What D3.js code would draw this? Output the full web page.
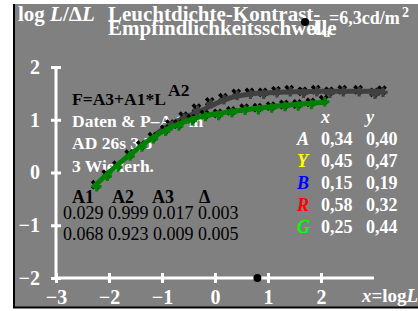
<!DOCTYPE html>
<html>
<head>
<meta charset="utf-8">
<script src="https://cdn.jsdelivr.net/npm/d3@7"></script>
<style>
  body { margin: 0; background: #fff; }
  text { font-family: "Liberation Serif", "DejaVu Serif", serif; }
</style>
</head>
<body>
<div id="chart"></div>
<script>
// ticks
const xTicks = [-3, -2, -1, 0, 1, 2];
const yTicks = [-2, -1, 0, 1, 2];

// fitted curves
const grayLineX = [-1.1, -0.8, -0.5, -0.25, 0, 0.3, 0.6, 1.0, 1.5, 2.0, 2.6, 3.2];
const grayLineY = [0.74, 0.93, 1.07, 1.18, 1.30, 1.42, 1.48, 1.51, 1.53, 1.54, 1.54, 1.54];
const greenLineX = [-2.3, -2.0, -1.74, -1.5, -1.28, -1.0, -0.66, -0.3, 0, 0.5, 1.0, 1.5, 2.1];
const greenLineY = [-0.28, 0.0, 0.23, 0.42, 0.59, 0.77, 0.93, 1.05, 1.11, 1.18, 1.24, 1.29, 1.33];

// measured points
const grayPtsX = [-0.85, -0.6, -0.35, -0.1, 0.15, 0.4, 0.65, 0.9, 1.15, 1.4, 1.65, 1.9, 2.15, 2.4, 2.7, 3.0, 3.15];
const grayPtsY = [0.9, 1.05, 1.2, 1.32, 1.4, 1.48, 1.5, 1.5, 1.53, 1.55, 1.52, 1.55, 1.52, 1.55, 1.55, 1.5, 1.54];
const greenPtsX = [-2.25, -2.05, -1.85, -1.62, -1.4, -1.18, -0.95, -0.7, -0.45, -0.2, 0.05, 0.3, 0.55, 0.8, 1.05, 1.3, 1.55, 1.8, 2.05];
const greenPtsY = [-0.25, -0.05, 0.12, 0.33, 0.5, 0.66, 0.8, 0.9, 1.0, 1.08, 1.1, 1.15, 1.2, 1.21, 1.24, 1.27, 1.28, 1.31, 1.36];

// fit parameters
const paramNames = ["A1", "A2", "A3", "\u0394"];
const paramRows = [
    ["0.029", "0.999", "0.017", "0.003"],
    ["0.068", "0.923", "0.009", "0.005"]
];

// colour legend
const legendNames = ["A", "Y", "B", "R", "G"];
const legendColors = ["#ffffff", "#ffff00", "#0000ff", "#ff0000", "#00ff00"];
const legendX = ["0,34", "0,45", "0,15", "0,58", "0,25"];
const legendY = ["0,40", "0,47", "0,19", "0,32", "0,44"];

const adaptLogL = 0.8;

const W = 418, H = 311;

const svg = d3.select("#chart").append("svg")
    .attr("width", W)
    .attr("height", H);

// panel
svg.append("rect")
    .attr("x", 14).attr("y", 4)
    .attr("width", W - 14).attr("height", 303)
    .attr("fill", "#808080");
svg.append("line")
    .attr("x1", 14).attr("x2", 14).attr("y1", 4).attr("y2", 308)
    .attr("stroke", "#000").attr("stroke-width", 2);
svg.append("line")
    .attr("x1", 13).attr("x2", W).attr("y1", 307.5).attr("y2", 307.5)
    .attr("stroke", "#000").attr("stroke-width", 2);

const x = d3.scaleLinear().domain([-3, 3]).range([56, 374]);
const y = d3.scaleLinear().domain([-2, 2]).range([278, 67]);

// axes
const minus = d => d < 0 ? "\u2212" + Math.abs(d) : d;
const xAxis = svg.append("g")
    .attr("transform", `translate(0,${y(-2)})`)
    .call(d3.axisBottom(x).tickValues(xTicks).tickSize(5).tickPadding(7).tickFormat(minus));
const yAxis = svg.append("g")
    .attr("transform", `translate(${x(-3)},0)`)
    .call(d3.axisLeft(y).tickValues(yTicks).tickSize(5).tickPadding(11).tickFormat(minus));

[xAxis, yAxis].forEach(g => {
    g.select(".domain").attr("stroke", "#fff").attr("stroke-width", 3);
    g.selectAll(".tick line").attr("stroke", "#fff").attr("stroke-width", 3);
    g.selectAll(".tick text")
        .attr("fill", "#fff")
        .style("font-family", "Liberation Serif")
        .style("font-size", "20px")
        .style("font-weight", "bold");
});
xAxis.selectAll(".tick line").attr("y1", -5).attr("y2", 5);
yAxis.selectAll(".tick line").attr("x1", -5).attr("x2", 5);
xAxis.select(".domain").attr("d", `M${x(-3)},0H${x(3)}`);
yAxis.select(".domain").attr("d", `M0,${y(-2)}V${y(2)}`);

// titles
const title = svg.append("g").attr("fill", "#fff").style("font-weight", "bold");
title.append("text").attr("x", 18).attr("y", 21).style("font-size", "21px")
    .html('log <tspan font-style="italic">L</tspan>/\u0394<tspan font-style="italic">L</tspan>');
title.append("text").attr("x", 108).attr("y", 21).style("font-size", "21px")
    .text("Leuchtdichte-Kontrast-");
title.append("text").attr("x", 108).attr("y", 35).style("font-size", "21px")
    .text("Empfindlichkeitsschwelle");
title.append("text").attr("x", 312).attr("y", 34).style("font-size", "20px")
    .style("font-style", "italic").text("L");
title.append("text").attr("x", 323).attr("y", 37).style("font-size", "13px")
    .text("u");
title.append("text").attr("x", 329).attr("y", 24).style("font-size", "18px")
    .text("=6,3cd/m");
title.append("text").attr("x", 402).attr("y", 17).style("font-size", "14px")
    .text("2");

// left text block
const info = svg.append("g").style("font-weight", "bold").style("font-size", "17.5px");
info.append("text").attr("x", 72).attr("y", 105).attr("fill", "#000").text("F=A3+A1*L");
info.append("text").attr("x", 168).attr("y", 96).attr("fill", "#000").text("A2");
info.append("text").attr("x", 72).attr("y", 127).attr("fill", "#fff").text("Daten & P\u2013A 1 in");
info.append("text").attr("x", 72).attr("y", 149).attr("fill", "#fff").text("AD 26s 3,5");
info.append("text").attr("x", 72).attr("y", 172).attr("fill", "#fff").text("3 Wiederh.");

// parameter table
const headX = [72, 112, 152, 199];
const colX = [63, 108, 153, 198];
svg.append("g").selectAll("text").data(paramNames).join("text")
    .attr("x", (d, i) => headX[i])
    .attr("y", 203)
    .attr("fill", "#000")
    .style("font-weight", "bold").style("font-size", "18px")
    .text(d => d);
paramRows.forEach((row, r) => {
    svg.append("g").selectAll("text").data(row).join("text")
        .attr("x", (d, i) => colX[i])
        .attr("y", 219 + r * 21)
        .attr("fill", "#000")
        .style("font-size", "18px")
        .text(d => d);
});

// colour legend
const leg = svg.append("g").style("font-weight", "bold").style("font-size", "18px");
leg.append("text").attr("x", 321).attr("y", 123).attr("fill", "#fff").style("font-style", "italic").text("x");
leg.append("text").attr("x", 366).attr("y", 123).attr("fill", "#fff").style("font-style", "italic").text("y");
legendNames.forEach((n, i) => {
    const yy = 145 + i * 22;
    leg.append("text").attr("x", 297).attr("y", yy).attr("fill", legendColors[i])
        .style("font-style", "italic").text(n);
    leg.append("text").attr("x", 321).attr("y", yy).attr("fill", "#fff").text(legendX[i]);
    leg.append("text").attr("x", 366).attr("y", yy).attr("fill", "#fff").text(legendY[i]);
});

// x-axis label
svg.append("text").attr("x", 362).attr("y", 302).attr("fill", "#fff")
    .style("font-weight", "bold").style("font-size", "19px")
    .html('<tspan font-style="italic">x</tspan>=log<tspan font-style="italic">L</tspan>');

// curves and markers
const line = d3.line().x(d => x(d[0])).y(d => y(d[1])).curve(d3.curveMonotoneX);
const cross = d3.symbol().type(d3.symbolCross).size(50);

function drawSeries(lx, ly, px, py, color) {
    const pts = px.map((v, i) => [v, py[i]]);
    const g = svg.append("g");
    // black dots of the repeated measurements
    g.selectAll(".dot").data(pts).join("path")
        .attr("transform", d => `translate(${x(d[0])},${y(d[1]) - 1}) rotate(45)`)
        .attr("d", d3.symbol().type(d3.symbolCross).size(60)())
        .attr("fill", "#000");
    g.append("path")
        .datum(lx.map((v, i) => [v, ly[i]]))
        .attr("d", line)
        .attr("fill", "none")
        .attr("stroke", color)
        .attr("stroke-width", 5);
    g.selectAll(".mk").data(pts).join("path")
        .attr("transform", d => `translate(${x(d[0]) + 1},${y(d[1]) + 1})`)
        .attr("d", cross())
        .attr("fill", color);
}

drawSeries(grayLineX, grayLineY, grayPtsX, grayPtsY, "#404040");
drawSeries(greenLineX, greenLineY, greenPtsX, greenPtsY, "#008000");

// adaptation luminance marks
svg.append("circle").attr("cx", 305).attr("cy", 22).attr("r", 4).attr("fill", "#000");
svg.append("circle").attr("cx", x(adaptLogL)).attr("cy", y(-2)).attr("r", 4).attr("fill", "#000");
</script>
</body>
</html>
